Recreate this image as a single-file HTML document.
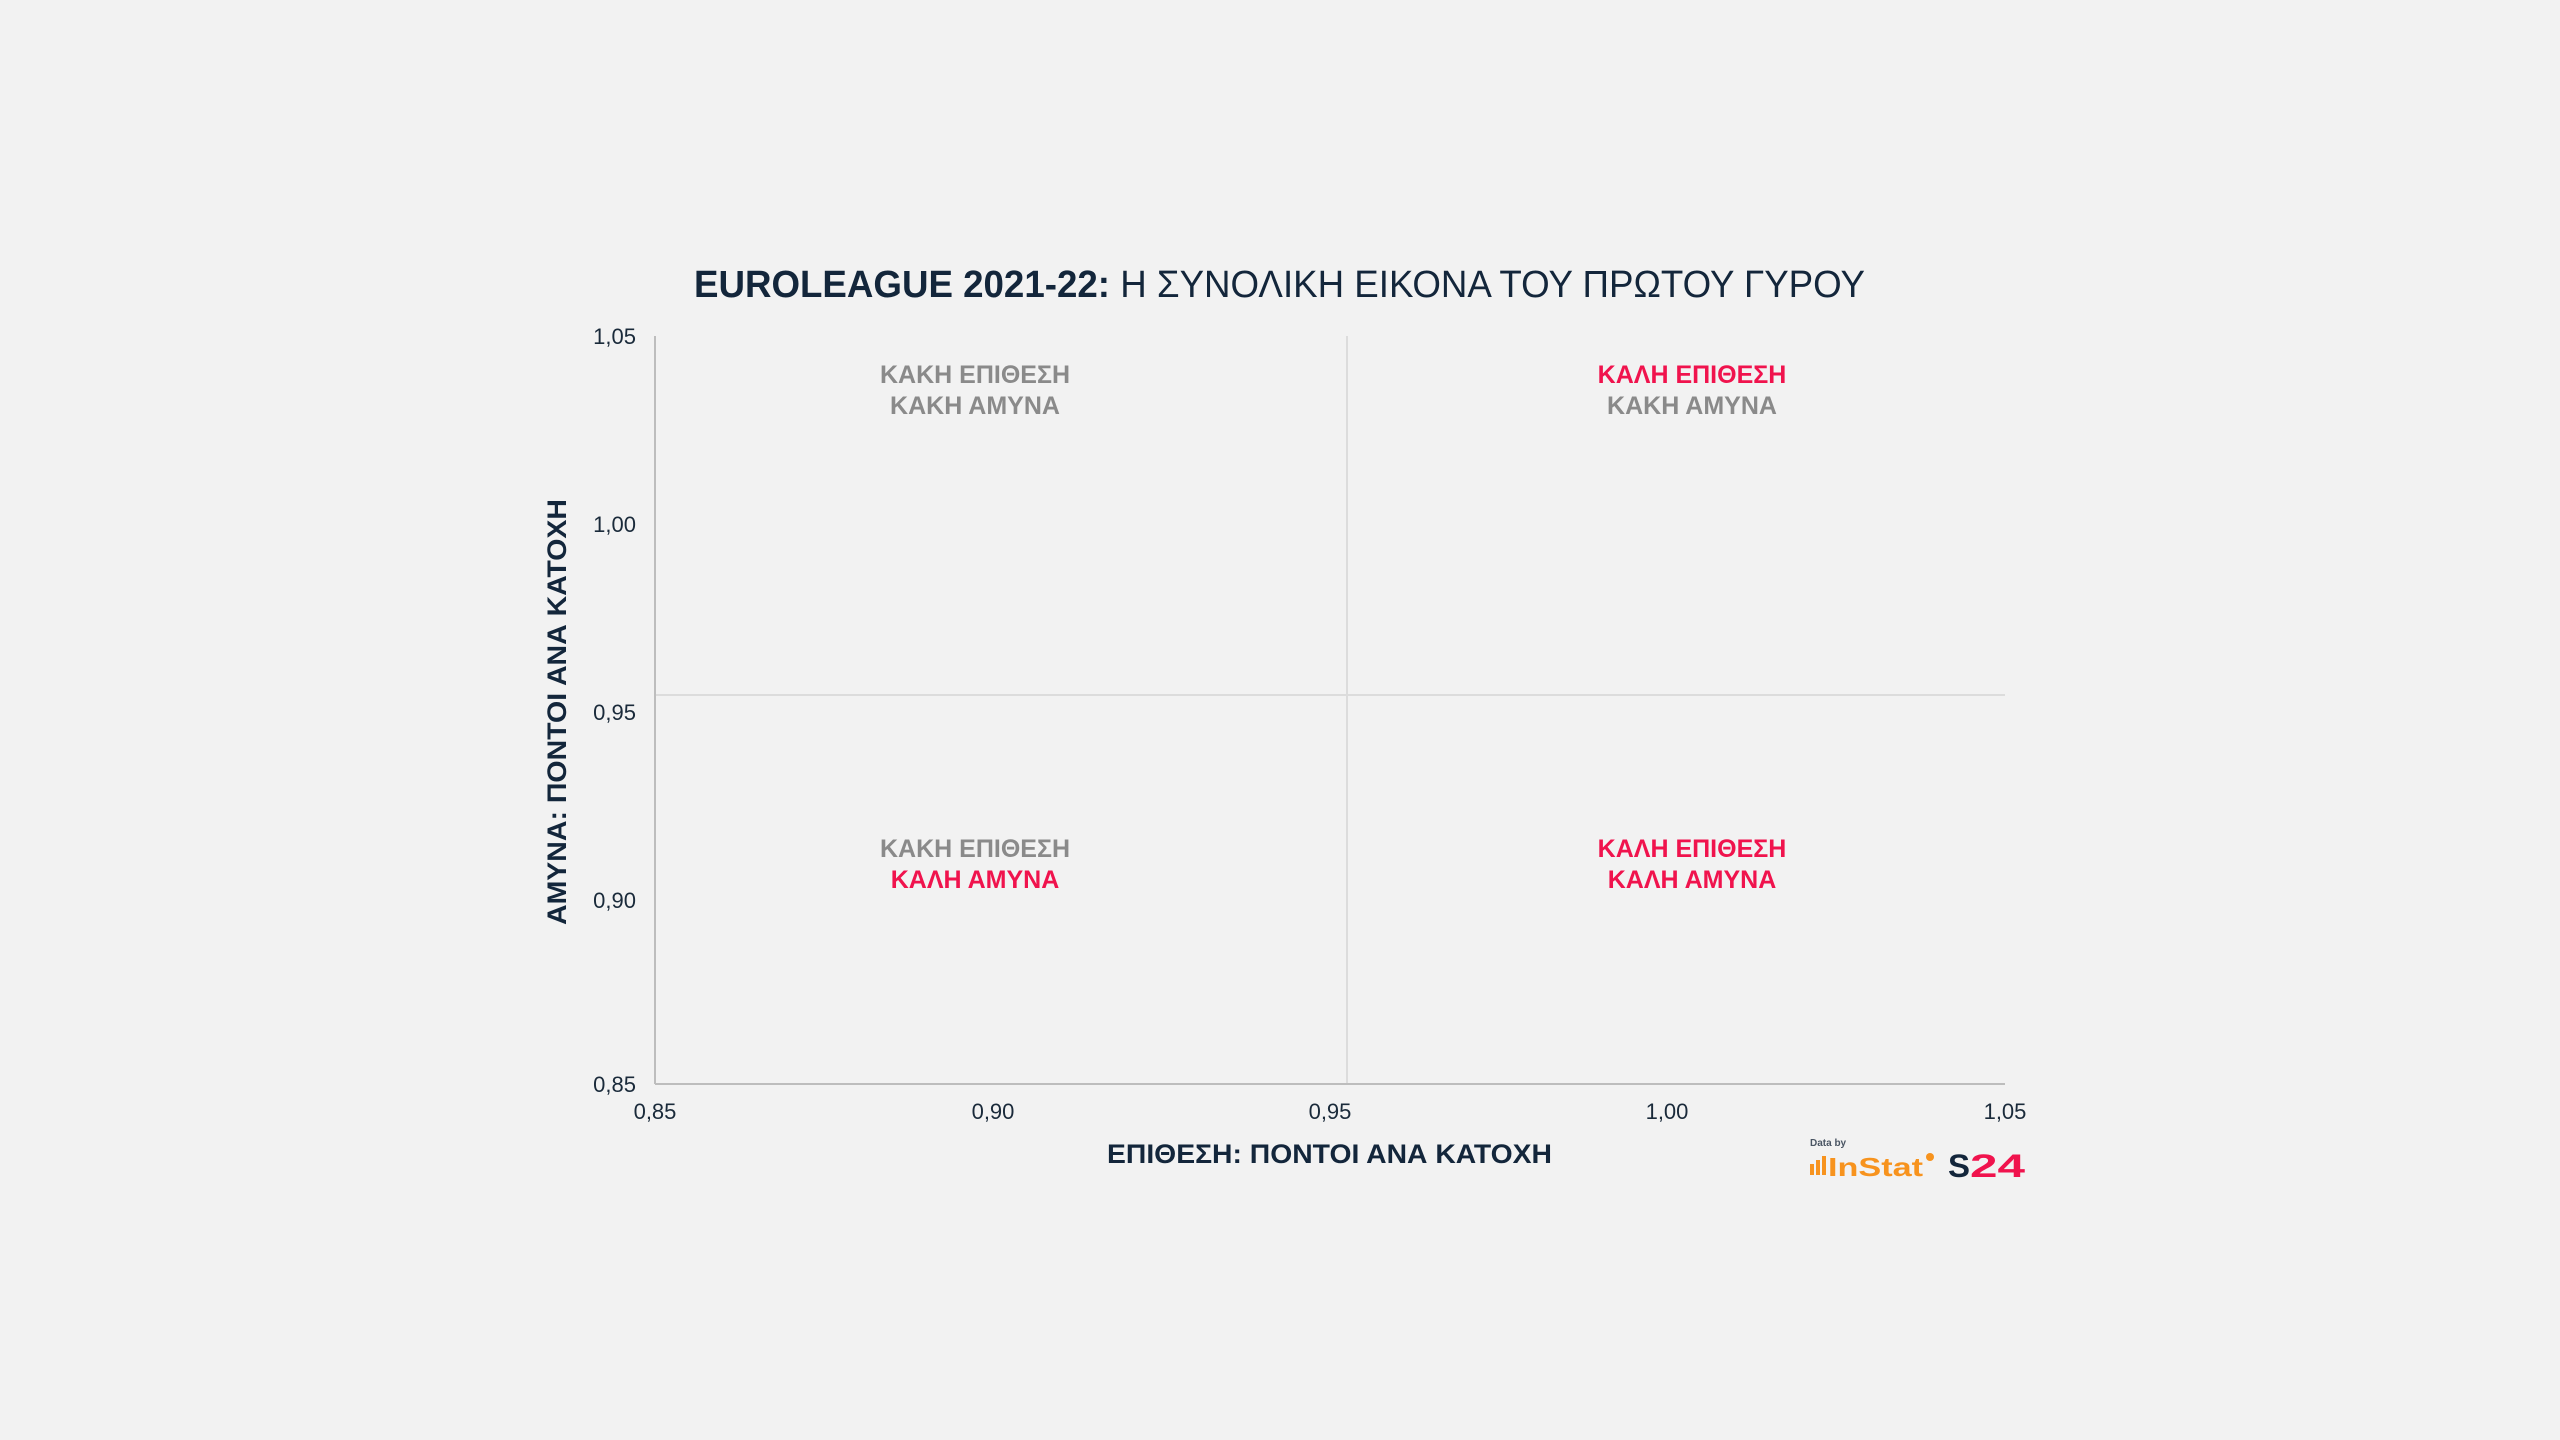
<!DOCTYPE html>
<html><head><meta charset="utf-8"><style>
html,body{margin:0;padding:0;background:#f2f2f2;}
svg{display:block;}
</style></head><body>
<svg width="2560" height="1440" viewBox="0 0 2560 1440" xmlns="http://www.w3.org/2000/svg">
<rect width="2560" height="1440" fill="#f2f2f2"/>
<g font-family="Liberation Sans, DejaVu Sans, sans-serif">
<!-- title -->
<text x="694" y="297" font-size="38" font-weight="bold" fill="#13263b" textLength="1171" lengthAdjust="spacingAndGlyphs">EUROLEAGUE 2021-22: <tspan font-weight="normal">Η ΣΥΝΟΛΙΚΗ ΕΙΚΟΝΑ ΤΟΥ ΠΡΩΤΟΥ ΓΥΡΟΥ</tspan></text>
<!-- grid -->
<line x1="1347" y1="336" x2="1347" y2="1084" stroke="#dcdcdc" stroke-width="2"/>
<line x1="655" y1="695" x2="2005" y2="695" stroke="#dcdcdc" stroke-width="2"/>
<line x1="655" y1="336" x2="655" y2="1084" stroke="#bdbdbd" stroke-width="2"/>
<line x1="655" y1="1084" x2="2005" y2="1084" stroke="#bdbdbd" stroke-width="2"/>
<!-- y ticks -->
<g font-size="22" fill="#1a2a3a" text-anchor="end">
<text x="636" y="344">1,05</text>
<text x="636" y="532">1,00</text>
<text x="636" y="720">0,95</text>
<text x="636" y="908">0,90</text>
<text x="636" y="1092">0,85</text>
</g>
<g font-size="22" fill="#1a2a3a" text-anchor="middle">
<text x="655" y="1119">0,85</text>
<text x="993" y="1119">0,90</text>
<text x="1330" y="1119">0,95</text>
<text x="1667" y="1119">1,00</text>
<text x="2005" y="1119">1,05</text>
</g>
<!-- axis titles -->
<text x="1107" y="1163" font-size="27" font-weight="bold" fill="#13263b" textLength="445" lengthAdjust="spacingAndGlyphs">ΕΠΙΘΕΣΗ: ΠΟΝΤΟΙ ΑΝΑ ΚΑΤΟΧΗ</text>
<text transform="translate(566,925) rotate(-90)" font-size="27" font-weight="bold" fill="#13263b" textLength="426" lengthAdjust="spacingAndGlyphs">ΑΜΥΝΑ: ΠΟΝΤΟΙ ΑΝΑ ΚΑΤΟΧΗ</text>
<!-- quadrant labels -->
<g font-size="25" font-weight="bold" text-anchor="middle">
<text x="975" y="383" fill="#8a8a8a">ΚΑΚΗ ΕΠΙΘΕΣΗ</text>
<text x="975" y="414" fill="#8a8a8a">ΚΑΚΗ ΑΜΥΝΑ</text>
<text x="1692" y="383" fill="#f0134d">ΚΑΛΗ ΕΠΙΘΕΣΗ</text>
<text x="1692" y="414" fill="#8a8a8a">ΚΑΚΗ ΑΜΥΝΑ</text>
<text x="975" y="857" fill="#8a8a8a">ΚΑΚΗ ΕΠΙΘΕΣΗ</text>
<text x="975" y="888" fill="#f0134d">ΚΑΛΗ ΑΜΥΝΑ</text>
<text x="1692" y="857" fill="#f0134d">ΚΑΛΗ ΕΠΙΘΕΣΗ</text>
<text x="1692" y="888" fill="#f0134d">ΚΑΛΗ ΑΜΥΝΑ</text>
</g>
<!-- logo -->
<text x="1810" y="1146" font-size="10" font-weight="bold" fill="#4a5563">Data by</text>
<rect x="1810" y="1164" width="4" height="11" fill="#f7931e"/>
<rect x="1816" y="1160" width="4" height="15" fill="#f7931e"/>
<rect x="1822" y="1156" width="4" height="19" fill="#f7931e"/>
<text x="1828" y="1176" font-size="26" font-weight="bold" fill="#f7931e" textLength="95" lengthAdjust="spacingAndGlyphs">InStat</text>
<circle cx="1930" cy="1157" r="4" fill="#f7931e"/>
<text x="1948" y="1177" font-size="32" font-weight="bold" fill="#13263b" textLength="22" lengthAdjust="spacingAndGlyphs">S</text>
<text x="1970" y="1177" font-size="32" font-weight="bold" fill="#f0134d" textLength="55" lengthAdjust="spacingAndGlyphs">24</text>
</g>
</svg>
</body></html>
